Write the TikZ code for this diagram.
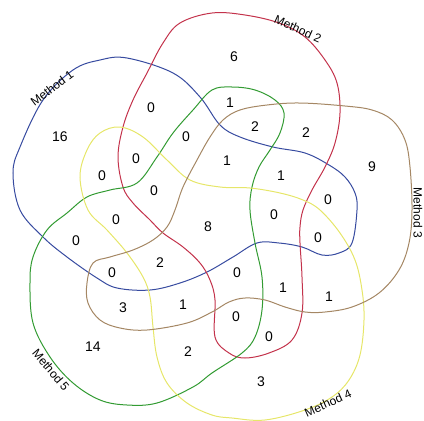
\documentclass[tikz,border=0pt]{standalone}
\usepackage{fontspec}
\setmainfont{Liberation Sans}
\begin{document}
\begin{tikzpicture}[x=1pt,y=-1pt,
  num/.style={font=\fontsize{14}{16}\selectfont,inner sep=0pt},
  lab/.style={font=\fontsize{12}{14}\selectfont,inner sep=0pt}]
\definecolor{cblue}{RGB}{55,75,160}
\definecolor{cred}{RGB}{195,50,75}
\definecolor{cgreen}{RGB}{50,155,50}
\definecolor{cyellow}{RGB}{230,230,105}
\definecolor{cbrown}{RGB}{165,135,100}
\useasboundingbox (0,0) rectangle (424,421);
% Method 1 (blue)
\draw[cblue,line width=1pt] plot[smooth cycle,tension=0.6] coordinates {(127,58) (173,73) (200,97) (220,125) (240,137) (273,147) (305,153) (329,165) (345,177) (355,193) (357,210) (352,243) (339,253) (322,255) (302,247) (279,243) (257,243) (233,257) (207,272) (180,283) (150,290) (117,288) (97,278) (67,257) (43,237) (20,210) (13,173) (20,147) (43,100) (73,70) (100,60)};
% Method 2 (red)
\draw[cred,line width=1pt] plot[smooth cycle,tension=0.6] coordinates {(212,13) (245,15) (279,23) (305,37) (325,60) (337,83) (340,113) (335,143) (325,167) (312,190) (303,210) (300,227) (300,243) (302,277) (302,313) (292,340) (269,353) (245,358) (229,353) (215,337) (215,300) (210,280) (200,263) (183,247) (163,233) (150,220) (133,203) (123,187) (118,157) (123,127) (133,100) (147,73) (163,43) (180,23)};
% Method 5 (green)
\draw[cgreen,line width=1pt] plot[smooth cycle,tension=0.6] coordinates {(212,90) (232,87) (255,90) (275,100) (284,113) (280,133) (270,150) (259,167) (252,187) (250,210) (255,243) (262,277) (262,310) (255,337) (242,353) (212,373) (193,387) (157,403) (127,405) (100,400) (73,383) (50,357) (33,323) (30,283) (33,257) (47,230) (67,213) (87,197) (110,190) (137,183) (157,157) (173,133) (193,110)};
% Method 4 (yellow)
\draw[cyellow,line width=1pt] plot[smooth cycle,tension=0.6] coordinates {(120,127) (143,137) (167,160) (190,180) (220,187) (250,188) (280,193) (303,200) (320,210) (340,233) (355,260) (362,290) (364,320) (360,355) (349,380) (332,397) (305,410) (265,420) (232,418) (212,415) (187,403) (167,383) (157,357) (153,327) (150,297) (143,277) (127,253) (107,230) (88,210) (80,177) (87,150) (100,133)};
% Method 3 (brown)
\draw[cbrown,line width=1pt] plot[smooth cycle,tension=0.6] coordinates {(240,110) (267,105) (300,103) (345,106) (372,110) (392,120) (405,140) (410,167) (412,210) (409,243) (399,270) (379,293) (352,307) (325,312) (305,312) (285,307) (265,300) (245,298) (229,302) (212,312) (187,323) (147,330) (120,328) (100,320) (88,303) (87,283) (93,263) (110,257) (133,250) (153,240) (167,227) (175,210) (183,187) (197,160) (210,137) (223,120)};
% labels
\node[lab,rotate=37] (l1) at (52,88) {Method 1};
\node[lab,rotate=-24] (l2) at (298,29) {Method 2};
\node[lab,rotate=-90] (l3) at (418,213) {Method 3};
\node[lab,rotate=24] (l4) at (328,403) {Method 4};
\node[lab,rotate=-50] (l5) at (51,370) {Method 5};
% numbers
\node[num] (n1) at (60,137) {16};
\node[num] (n2) at (151,108) {0};
\node[num] (n3) at (234,57) {6};
\node[num] (n4) at (230,103) {1};
\node[num] (n5) at (255,127) {2};
\node[num] (n6) at (306,133) {2};
\node[num] (n7) at (186,137) {0};
\node[num] (n8) at (136,159) {0};
\node[num] (n9) at (227,161) {1};
\node[num] (n10) at (281,176) {1};
\node[num] (n11) at (372,167) {9};
\node[num] (n12) at (102,176) {0};
\node[num] (n13) at (154,191) {0};
\node[num] (n14) at (328,200) {0};
\node[num] (n15) at (116,220) {0};
\node[num] (n16) at (208,227) {8};
\node[num] (n17) at (274,215) {0};
\node[num] (n18) at (76,241) {0};
\node[num] (n19) at (318,238) {0};
\node[num] (n20) at (112,273) {0};
\node[num] (n21) at (160,263) {2};
\node[num] (n22) at (237,273) {0};
\node[num] (n23) at (283,288) {1};
\node[num] (n24) at (329,297) {1};
\node[num] (n25) at (123,308) {3};
\node[num] (n26) at (183,305) {1};
\node[num] (n27) at (236,317) {0};
\node[num] (n28) at (269,337) {0};
\node[num] (n29) at (93,347) {14};
\node[num] (n30) at (188,352) {2};
\node[num] (n31) at (261,382) {3};
\end{tikzpicture}
\end{document}
